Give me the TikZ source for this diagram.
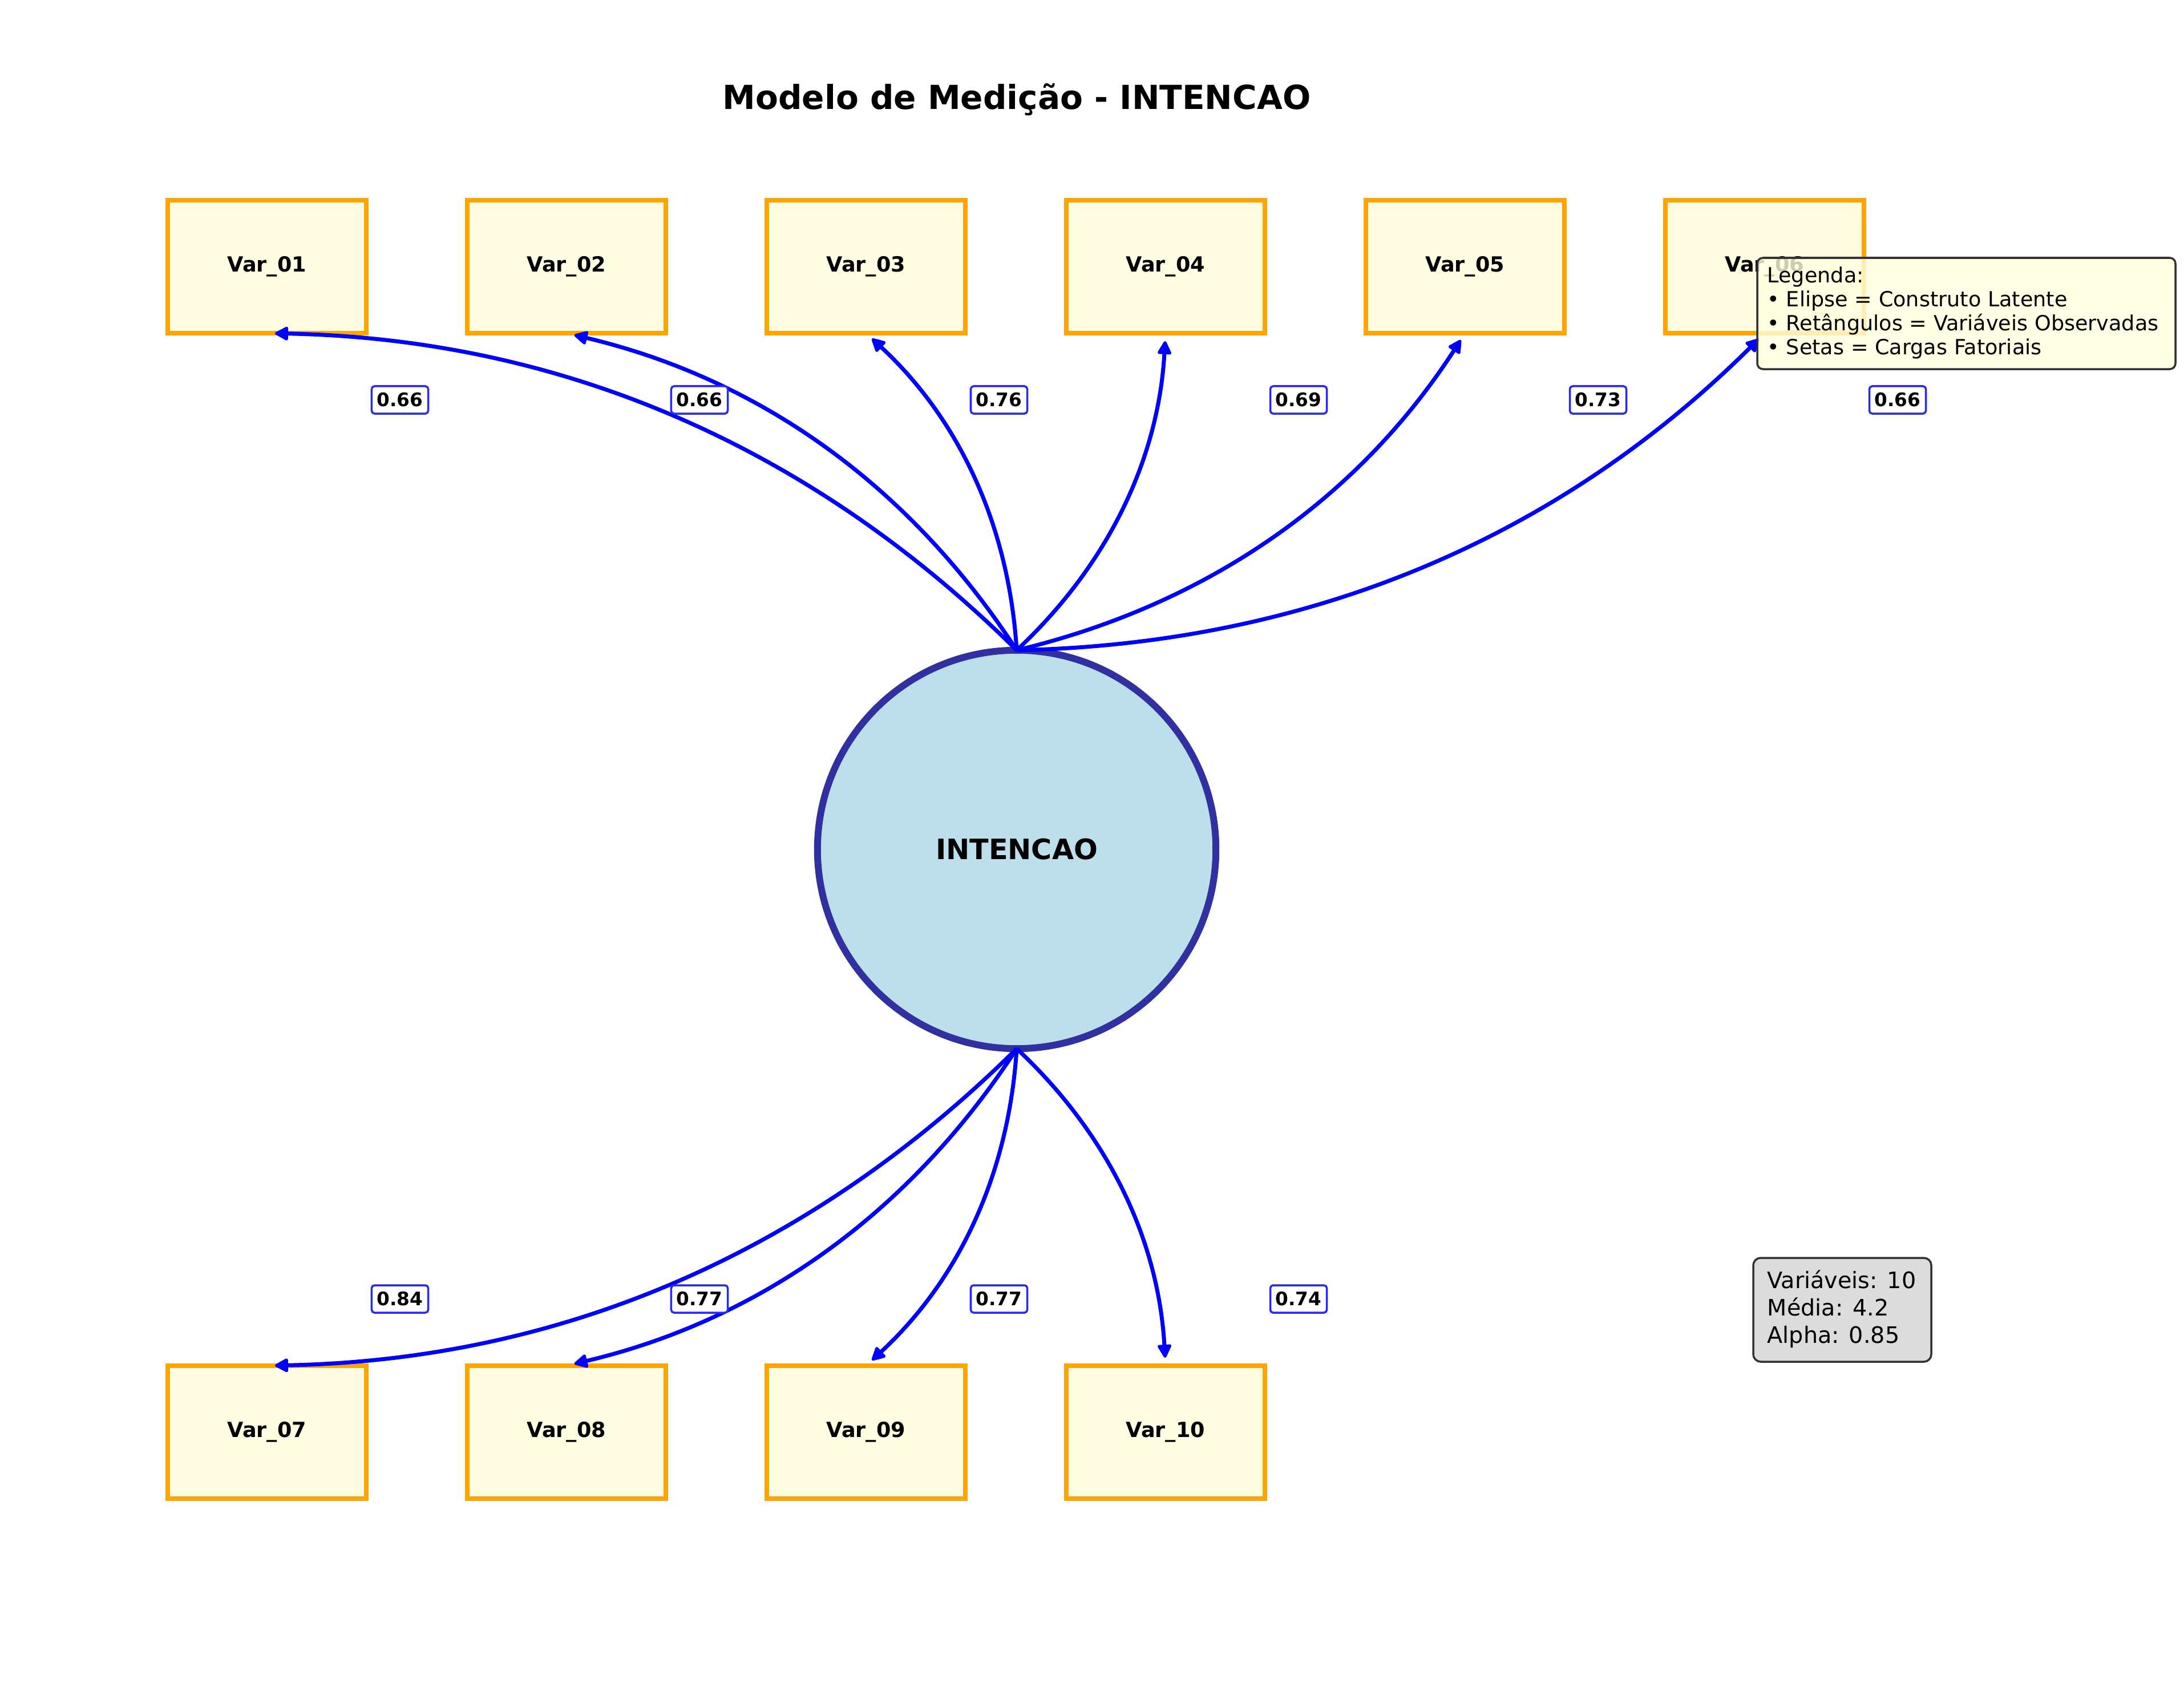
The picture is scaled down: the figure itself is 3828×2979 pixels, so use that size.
\documentclass[tikz,border=0pt]{standalone}
\usepackage{fontspec}
\setmainfont{DejaVu Sans}
\usetikzlibrary{calc,arrows.meta}

\definecolor{boxfill}{HTML}{FFFDE1}
\definecolor{boxedge}{HTML}{FFA500}
\definecolor{latfill}{RGB}{189,223,235}
\definecolor{latedge}{RGB}{48,48,160}
\definecolor{loadblue}{RGB}{0,0,255}
\definecolor{tagedge}{RGB}{40,40,250}
\definecolor{legfill}{HTML}{FFFFE0}
\definecolor{statfill}{RGB}{220,220,220}
\definecolor{frame}{RGB}{51,51,51}

\tikzset{
  obs/.style={draw=boxedge, fill=boxfill, line width=0.08cm, rectangle,
    minimum width=3.48cm, minimum height=2.33cm, inner sep=0pt, outer sep=0pt,
    font=\fontsize{10.4}{12}\selectfont\bfseries},
  latent/.style={draw=latedge, fill=latfill, line width=0.12cm, circle,
    minimum size=6.98cm, inner sep=0pt, outer sep=0pt,
    font=\fontsize{14}{16}\selectfont\bfseries},
  load/.style={draw=loadblue, line width=0.07cm,
    -{Triangle[length=0.26cm, width=0.26cm, line width=0.05cm, round]}, shorten >=0.14cm},
  tag/.style={draw=tagedge, fill=white, line width=0.035cm, rounded corners=0.05cm,
    minimum width=0.99cm, minimum height=0.48cm, inner sep=0pt,
    font=\fontsize{9.3}{11}\selectfont\bfseries},
  legtext/.style={anchor=base west, inner sep=0pt, font=\fontsize{10.4}{12}\selectfont},
  stattext/.style={anchor=base west, inner sep=0pt, font=\fontsize{11.3}{13}\selectfont},
}

\begin{document}
\begin{tikzpicture}[x=0.01cm, y=-0.01cm]
  % canvas
  \fill[white] (0,0) rectangle (3828,2979);
  \useasboundingbox (0,0) rectangle (3828,2979);

  % title
  \node[anchor=base, inner sep=0pt, font=\fontsize{16.5}{19}\selectfont\bfseries]
    (title) at (1782,192) {Modelo de Medição - INTENCAO};

  % observed variables
  \foreach \i/\x/\t in {1/468/01,2/993/02,3/1518/03,4/2043/04,5/2568/05,6/3093/06}
    \node[obs] (v\i) at (\x,467.5) {Var\_\t};
  \foreach \i/\x/\t in {7/468/07,8/993/08,9/1518/09,10/2043/10}
    \node[obs] (v\i) at (\x,2510.5) {Var\_\t};

  % latent construct
  \node[latent] (c) at (1782,1489) {INTENCAO};

  % loadings, upper row
  \foreach \i in {1,...,6} {
    \coordinate (m\i) at ($(c.north)!0.5!(v\i.south)$);
    \coordinate (k\i) at ($(m\i)!0.4!-90:(v\i.south)$);
    \draw[load] (c.north) .. controls ($(c.north)!2/3!(k\i)$) and ($(v\i.south)!2/3!(k\i)$) .. (v\i.south);
  }
  % loadings, lower row
  \foreach \i in {7,...,10} {
    \coordinate (m\i) at ($(c.south)!0.5!(v\i.north)$);
    \coordinate (k\i) at ($(m\i)!0.4!90:(v\i.north)$);
    \draw[load] (c.south) .. controls ($(c.south)!2/3!(k\i)$) and ($(v\i.north)!2/3!(k\i)$) .. (v\i.north);
  }

  % loading values
  \foreach \i/\x/\v in {1/701/0.66,2/1226/0.66,3/1751/0.76,4/2276/0.69,5/2801/0.73,6/3326/0.66}
    \node[tag] (l\i) at (\x,701) {\v};
  \foreach \i/\x/\v in {7/701/0.84,8/1226/0.77,9/1751/0.77,10/2276/0.74}
    \node[tag] (l\i) at (\x,2277) {\v};

  % legend
  \draw[draw=frame, line width=0.035cm, fill=legfill, fill opacity=0.8, rounded corners=0.1cm]
    (3080,452) rectangle (3813,647);
  \node[legtext] (leg1) at (3097,495) {Legenda:};
  \node[legtext] (leg2) at (3097,537) {• Elipse = Construto Latente};
  \node[legtext] (leg3) at (3097,579) {• Retângulos = Variáveis Observadas};
  \node[legtext] (leg4) at (3097,621) {• Setas = Cargas Fatoriais};

  % summary statistics
  \draw[draw=frame, line width=0.035cm, fill=statfill, rounded corners=0.13cm]
    (3073,2205) rectangle (3385,2387);
  \node[stattext] (st1) at (3097,2258) {Variáveis: 10};
  \node[stattext] (st2) at (3097,2306) {Média: 4.2};
  \node[stattext] (st3) at (3097,2354) {Alpha: 0.85};
\end{tikzpicture}
\end{document}
